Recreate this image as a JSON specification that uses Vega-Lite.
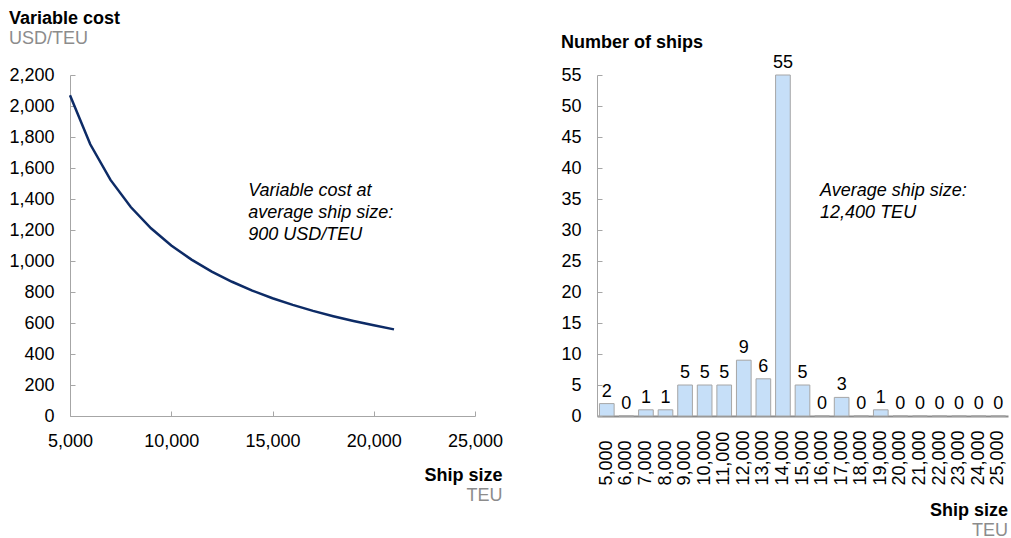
{
  "$schema": "https://vega.github.io/schema/vega-lite/v6.json",
  "padding": {"left": 8, "top": 10, "right": 2, "bottom": 2},
  "spacing": 57,
  "config": {
    "font": "Liberation Sans",
    "view": {"stroke": null},
    "axis": {
      "labelFont": "Liberation Sans",
      "labelFontSize": 18,
      "labelColor": "#000000",
      "domainColor": "#a6a6a6",
      "tickColor": "#a6a6a6",
      "grid": false,
      "tickSize": -5,
      "labelPadding": 21,
      "labelOverlap": false,
      "labelFlush": false,
      "title": null
    },
    "title": {
      "font": "Liberation Sans",
      "fontSize": 18,
      "fontWeight": "bold",
      "color": "#000000",
      "subtitleFont": "Liberation Sans",
      "subtitleFontSize": 18,
      "subtitleColor": "#8c8c8c",
      "subtitlePadding": 2
    }
  },
  "hconcat": [
    {
      "title": {"text": "Ship size", "subtitle": "TEU", "orient": "bottom", "anchor": "end", "frame": "bounds", "offset": 17},
      "vconcat": [
        {
          "title": {"text": "Variable cost", "subtitle": "USD/TEU", "anchor": "start", "frame": "bounds", "offset": 18},
          "width": 405,
          "height": 341,
          "layer": [
            {
              "data": {"values": [
                {"size": 5000, "cost": 2070},
                {"size": 6000, "cost": 1753},
                {"size": 7000, "cost": 1523},
                {"size": 8000, "cost": 1348},
                {"size": 9000, "cost": 1211},
                {"size": 10000, "cost": 1100},
                {"size": 11000, "cost": 1009},
                {"size": 12000, "cost": 932},
                {"size": 13000, "cost": 866},
                {"size": 14000, "cost": 809},
                {"size": 15000, "cost": 760},
                {"size": 16000, "cost": 717},
                {"size": 17000, "cost": 678},
                {"size": 18000, "cost": 644},
                {"size": 19000, "cost": 613},
                {"size": 20000, "cost": 585},
                {"size": 21000, "cost": 559}
              ]},
              "mark": {"type": "line", "color": "#0d2b66", "strokeWidth": 2.5},
              "encoding": {
                "x": {"field": "size", "type": "quantitative", "scale": {"domain": [5000, 25000], "nice": false}, "axis": {"values": [5000, 10000, 15000, 20000, 25000], "format": ",.0f"}},
                "y": {"field": "cost", "type": "quantitative", "scale": {"domain": [0, 2200], "nice": false}, "axis": {"values": [0, 200, 400, 600, 800, 1000, 1200, 1400, 1600, 1800, 2000, 2200], "format": ",.0f"}}
              }
            },
            {
              "data": {"values": [{"note": "Variable cost at\naverage ship size:\n900 USD/TEU"}]},
              "mark": {"type": "text", "align": "left", "baseline": "top", "fontStyle": "italic", "fontSize": 18, "lineBreak": "\n", "lineHeight": 22, "color": "#000000"},
              "encoding": {
                "x": {"datum": 13800, "type": "quantitative", "axis": {"values": [5000, 10000, 15000, 20000, 25000], "format": ",.0f"}},
                "y": {"datum": 1510, "type": "quantitative", "axis": {"values": [0, 200, 400, 600, 800, 1000, 1200, 1400, 1600, 1800, 2000, 2200], "format": ",.0f"}},
                "text": {"field": "note"}
              }
            }
          ]
        }
      ]
    },
    {
      "title": {"text": "Ship size", "subtitle": "TEU", "orient": "bottom", "anchor": "end", "frame": "bounds", "offset": 17},
      "vconcat": [
        {
          "title": {"text": " ", "subtitle": "Number of ships", "subtitleColor": "#000000", "subtitleFontWeight": "bold", "anchor": "start", "frame": "bounds", "offset": 2},
          "width": 411,
          "height": 341,
          "layer": [
            {
              "data": {"name": "ships"},
              "mark": {"type": "bar", "fill": "#c6dff8", "stroke": "#a6a6a6", "strokeWidth": 1},
              "encoding": {
                "x": {"field": "size", "type": "ordinal", "sort": "ascending", "scale": {"paddingInner": 0.25, "paddingOuter": 0.125},
                  "axis": {"labelExpr": "format(datum.value, ',')", "labelAngle": 270, "labelAlign": "left", "labelBaseline": "middle", "labelPadding": 69, "ticks": false, "domainColor": "#8c8c8c", "domainWidth": 2}},
                "y": {"field": "ships", "type": "quantitative", "scale": {"domain": [0, 55], "nice": false}, "axis": {"values": [0, 5, 10, 15, 20, 25, 30, 35, 40, 45, 50, 55]}}
              }
            },
            {
              "data": {"name": "ships"},
              "mark": {"type": "text", "baseline": "bottom", "dy": -3, "fontSize": 18, "color": "#000000"},
              "encoding": {
                "x": {"field": "size", "type": "ordinal", "sort": "ascending",
                  "axis": {"labelExpr": "format(datum.value, ',')", "labelAngle": 270, "labelAlign": "left", "labelBaseline": "middle", "labelPadding": 69, "ticks": false, "domainColor": "#8c8c8c", "domainWidth": 2}},
                "y": {"field": "ships", "type": "quantitative", "axis": {"values": [0, 5, 10, 15, 20, 25, 30, 35, 40, 45, 50, 55]}},
                "text": {"field": "ships", "type": "quantitative"}
              }
            },
            {
              "data": {"values": [{"note": "Average ship size:\n12,400 TEU"}]},
              "mark": {"type": "text", "align": "left", "baseline": "top", "fontStyle": "italic", "fontSize": 18, "lineBreak": "\n", "lineHeight": 22, "dx": -2, "color": "#000000"},
              "encoding": {
                "x": {"datum": 16000, "type": "ordinal", "axis": {"labelExpr": "format(datum.value, ',')", "labelAngle": 270, "labelAlign": "left", "labelBaseline": "middle", "labelPadding": 69, "ticks": false, "domainColor": "#8c8c8c", "domainWidth": 2}},
                "y": {"datum": 37.8, "type": "quantitative", "axis": {"values": [0, 5, 10, 15, 20, 25, 30, 35, 40, 45, 50, 55]}},
                "text": {"field": "note"}
              }
            }
          ]
        }
      ]
    }
  ],
  "datasets": {
    "ships": [
      {"size": 5000, "ships": 2},
      {"size": 6000, "ships": 0},
      {"size": 7000, "ships": 1},
      {"size": 8000, "ships": 1},
      {"size": 9000, "ships": 5},
      {"size": 10000, "ships": 5},
      {"size": 11000, "ships": 5},
      {"size": 12000, "ships": 9},
      {"size": 13000, "ships": 6},
      {"size": 14000, "ships": 55},
      {"size": 15000, "ships": 5},
      {"size": 16000, "ships": 0},
      {"size": 17000, "ships": 3},
      {"size": 18000, "ships": 0},
      {"size": 19000, "ships": 1},
      {"size": 20000, "ships": 0},
      {"size": 21000, "ships": 0},
      {"size": 22000, "ships": 0},
      {"size": 23000, "ships": 0},
      {"size": 24000, "ships": 0},
      {"size": 25000, "ships": 0}
    ]
  }
}
